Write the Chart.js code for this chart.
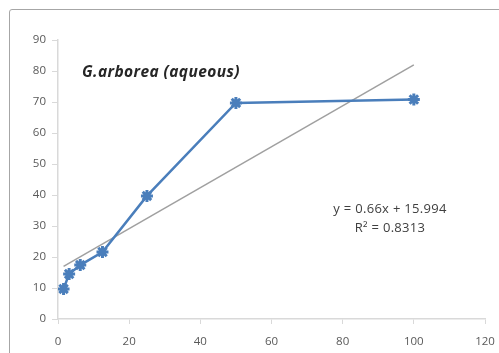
<!DOCTYPE html>
<html>
<head>
<meta charset="utf-8">
<script src="https://cdn.jsdelivr.net/npm/chart.js@4"></script>
<style>
  html, body { margin: 0; padding: 0; background: #fff; overflow: hidden; }
  #wrap { position: relative; width: 499px; height: 353px; }
  #frame { position: absolute; left: 9px; top: 9px; width: 540px; height: 400px;
           border: 1.5px solid #a6a6a6; border-radius: 3px; }
  canvas { position: absolute; left: 0; top: 0; }
  .lbl { position: absolute; font-family: "Open Sans", "Liberation Sans", sans-serif; color: #262626; white-space: nowrap; }
  #title { left: 82px; top: 60px; font-size: 15.5px; font-weight: bold; font-style: italic; letter-spacing: 0.4px; }
  #eq { left: 320px; top: 199px; font-size: 13px; text-align: center; width: 140px; line-height: 19px; color: #404040; letter-spacing: 0.3px; }
</style>
</head>
<body>
<div id="wrap">
  <div id="frame"></div>
  <canvas id="grafica" width="499" height="353"></canvas>
  <div class="lbl" id="title">G.arborea (aqueous)</div>
  <div class="lbl" id="eq">y = 0.66x + 15.994<br>R² = 0.8313</div>
</div>
<script>
// ==============================
// DATOS
// ==============================
const concentraciones = [1.5625, 3.125, 6.25, 12.5, 25, 50, 100];
const inhibicion = [9.7, 14.5, 17.4, 21.6, 39.7, 69.7, 70.8];

// linea de tendencia (extremos)
const tendenciaX = [1.5625, 100];
const tendenciaY = [17.0, 82.0];

const ticksX = [0, 20, 40, 60, 80, 100, 120];
const ticksY = [0, 10, 20, 30, 40, 50, 60, 70, 80, 90];

// ==============================
// GRAFICA
// ==============================
const puntos = concentraciones.map((x, i) => ({ x: x, y: inhibicion[i] }));
const tendencia = tendenciaX.map((x, i) => ({ x: x, y: tendenciaY[i] }));

const fuente = { family: "'Open Sans', 'Liberation Sans', sans-serif", size: 11.5 };

new Chart(document.getElementById("grafica"), {
  type: "scatter",
  data: {
    datasets: [
      {
        data: tendencia,
        showLine: true,
        borderColor: "#a0a0a0",
        borderWidth: 1.5,
        pointRadius: 0,
        order: 2
      },
      {
        data: puntos,
        showLine: true,
        borderColor: "#4a7ebb",
        backgroundColor: "#4a7ebb",
        borderWidth: 2.5,
        pointStyle: "star",
        pointRadius: 6,
        pointBorderWidth: 3,
        order: 1
      }
    ]
  },
  options: {
    responsive: false,
    animation: false,
    layout: { padding: { top: 40, right: 0, left: 0, bottom: 0 } },
    plugins: { legend: { display: false }, tooltip: { enabled: false } },
    scales: {
      x: {
        type: "linear",
        min: 0, max: 120,
        afterBuildTicks: s => { s.ticks = ticksX.map(v => ({ value: v })); },
        afterFit: s => { s.height = 34; s.paddingRight = 14; s.paddingLeft = 0; },
        grid: { drawOnChartArea: false, color: "#d9d9d9", tickLength: 5, tickColor: "#d9d9d9" },
        border: { color: "#d9d9d9", width: 1.5 },
        ticks: { color: "#595959", font: fuente, padding: 11, maxRotation: 0 }
      },
      y: {
        type: "linear",
        min: 0, max: 90,
        afterBuildTicks: s => { s.ticks = ticksY.map(v => ({ value: v })); },
        afterFit: s => { s.width = 58; },
        grid: { drawOnChartArea: false, color: "#d9d9d9", tickLength: 6, tickColor: "#d9d9d9" },
        border: { color: "#d9d9d9", width: 1.5 },
        ticks: { color: "#595959", font: fuente, padding: 6 }
      }
    }
  }
});
</script>
</body>
</html>
